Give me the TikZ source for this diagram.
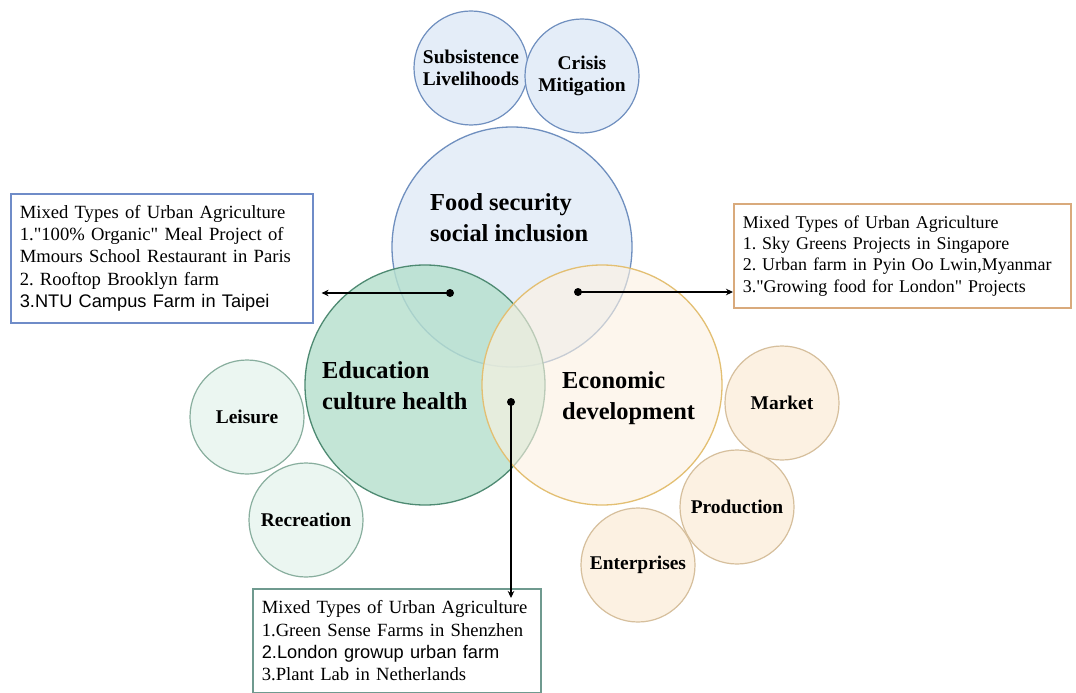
\documentclass[tikz,border=0pt]{standalone}
\usepackage{fontspec}
\setmainfont{Liberation Serif}[Ligatures=TeXOff]
\newfontfamily\sansf{Liberation Sans}[Ligatures=TeXOff]
\usetikzlibrary{arrows.meta}
\definecolor{foodfill}{HTML}{E4EDF8}
\definecolor{foodline}{HTML}{6F8FBF}
\definecolor{edufill}{HTML}{B6E0CE}
\definecolor{eduline}{HTML}{4E8A72}
\definecolor{leisfill}{HTML}{EBF6F1}
\definecolor{leisline}{HTML}{88AE9E}
\definecolor{econfill}{HTML}{FDF2E2}
\definecolor{econline}{HTML}{E3BF72}
\definecolor{mktfill}{HTML}{FCF1E2}
\definecolor{mktline}{HTML}{D6BF9C}
\definecolor{lboxline}{HTML}{6F8CC8}
\definecolor{rboxline}{HTML}{D9AA7C}
\definecolor{bboxline}{HTML}{6F9A8F}
\tikzset{
  bigc/.style={circle, minimum size=240bp, inner sep=0pt, line width=1.3bp},
  smallc/.style={circle, minimum size=114bp, inner sep=0pt, line width=1.2bp, align=center,
     font=\fontsize{19.5}{22}\selectfont\bfseries},
  foodc/.style={fill=foodfill, draw=foodline},
  educ/.style={fill=edufill, draw=eduline},
  leisc/.style={fill=leisfill, draw=leisline},
  econc/.style={fill=econfill, draw=econline},
  mktc/.style={fill=mktfill, draw=mktline},
  biglabel/.style={anchor=west, align=left, inner sep=0pt, font=\fontsize{24.5}{31}\selectfont\bfseries},
  infobox/.style={anchor=north west, align=left, inner xsep=9bp, inner ysep=7bp, line width=1.6bp,
     fill=white, font=\fontsize{18.7}{22.3}\selectfont},
  conn/.style={line width=1.5bp, -{Stealth[length=7bp,width=6.5bp]}},
  dotc/.style={circle, fill=black, inner sep=0pt, minimum size=8bp}
}
\begin{document}
\frenchspacing
\begin{tikzpicture}[x=1bp,y=-1bp]
\useasboundingbox[fill=white] (0,0) rectangle (1076,693);
% top small circles
\node[smallc, foodc] (subs) at (471,68) {Subsistence\\Livelihoods};
\node[smallc, foodc] (cris) at (582,76) {Crisis\\Mitigation};
% left small circles
\node[smallc, leisc] (leis) at (247,417) {Leisure};
\node[smallc, leisc] (recr) at (306,520) {Recreation};
% right small circles
\node[smallc, mktc] (mkt) at (782,403) {Market};
\node[smallc, mktc] (prod) at (737,507) {Production};
\node[smallc, mktc] (ent) at (638,565) {Enterprises};
% big circles
\node[bigc, foodc, fill opacity=0.9] (food) at (512,247) {};
\node[bigc, educ, fill opacity=0.82] (edu) at (425,385) {};
\node[bigc, econc, fill opacity=0.62] (econ) at (602,385) {};
% big labels
\node[biglabel] (foodt) at (430,218) {Food security\\social inclusion};
\node[biglabel] (edut) at (322,386) {Education\\culture health};
\node[biglabel] (econt) at (562,398) {Economic\\development};
% boxes
\node[infobox, draw=lboxline, text width=284bp, minimum height=129bp] (lbox) at (10,193)
 {Mixed Types of Urban Agriculture\\
  1."100\% Organic" Meal Project of\\
  Mmours School Restaurant in Paris\\
  2. Rooftop Brooklyn farm\\
  {\sansf\fontsize{18.3}{22.3}\selectfont 3.NTU Campus Farm in Taipei}};
\node[infobox, draw=rboxline, text width=319bp, minimum height=104bp,
      font=\fontsize{18}{21.5}\selectfont] (rbox) at (733,203)
 {Mixed Types of Urban Agriculture\\
  1. Sky Greens Projects in Singapore\\
  2. Urban farm in Pyin Oo Lwin,Myanmar\\
  3."Growing food for London" Projects};
\node[infobox, draw=bboxline, text width=270bp, minimum height=104bp] (bbox) at (252,588)
 {Mixed Types of Urban Agriculture\\
  1.Green Sense Farms in Shenzhen\\
  {\sansf\fontsize{18.3}{22.3}\selectfont 2.London growup urban farm}\\
  3.Plant Lab in Netherlands};
% connectors
\node[dotc] (d1) at (450,293) {};
\node[dotc] (d2) at (578,292) {};
\node[dotc] (d3) at (511,402) {};
\draw[conn] (d1.center) -- ([xshift=8bp]lbox.east |- d1);
\draw[conn] (d2.center) -- (rbox.west |- d2);
\draw[conn] (d3.center) -- ([yshift=-10bp]d3 |- bbox.north);
\end{tikzpicture}
\end{document}
